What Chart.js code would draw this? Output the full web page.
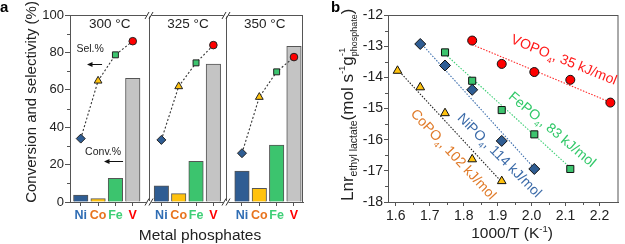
<!DOCTYPE html>
<html>
<head>
<meta charset="utf-8">
<title>Metal phosphates</title>
<script src="https://cdn.jsdelivr.net/npm/chart.js@4.4.1/dist/chart.umd.min.js"></script>
<style>
  body { margin: 0; background: #fff; }
  #wrap { position: relative; width: 625px; height: 244px; }
  canvas { position: absolute; top: 0; }
</style>
</head>
<body>
<div id="wrap">
  <canvas id="chartA" width="320" height="244" style="left:0"></canvas>
  <canvas id="chartB" width="305" height="244" style="left:320px"></canvas>
</div>
<script>
const FONT = "'Liberation Sans', Arial, Helvetica, sans-serif";

// ---- panel a data
const metals = ["Ni", "Co", "Fe", "V"];
const temps = ["300 °C", "325 °C", "350 °C"];
const conv300 = [3.7, 1.8, 12.7, 66.2];
const conv325 = [8.6, 4.5, 21.8, 73.8];
const conv350 = [16.6, 7.3, 30.4, 83.2];
const sel300 = [33.9, 64.8, 78.7, 86.0];
const sel325 = [33.2, 61.8, 74.4, 83.9];
const sel350 = [26.1, 56.1, 69.6, 77.5];
const yTicksA = [0, 20, 40, 60, 80, 100];

// ---- panel b data (1000/T values, ln r values)
const invT = [1.605, 1.672, 1.745, 1.825, 1.912, 2.008, 2.114, 2.232];
const lnCo = [-13.79, -14.32, -15.15, -16.63, -17.33]; // starts at invT[0]
const lnNi = [-12.93, -13.62, -14.40, -16.04, -16.94]; // starts at invT[1]
const lnFe = [-13.20, -14.11, -15.05, -15.83, -16.94]; // starts at invT[2]
const lnV = [-12.82, -13.57, -13.83, -14.08, -14.81];  // starts at invT[3]
const fitCo = [-13.75, -17.36];
const fitNi = [-12.88, -16.92];
const fitFe = [-13.25, -16.90];
const fitV = [-12.95, -14.80];
const xTicksB = [1.6, 1.7, 1.8, 1.9, 2.0, 2.1, 2.2];
const yTicksB = [-18, -17, -16, -15, -14, -13, -12];

// colours
const barColors = ["#2f5d93", "#ffc20e", "#3cc46e", "#c4c4c4"];
const markColors = ["#2f5d93", "#ffc20e", "#3cc46e", "#ff0000"];
const labelColors = ["#2f6db4", "#e8741e", "#3fcf77", "#ff0000"];
const markStyles = ["rectRot", "triangle", "rect", "circle"];
const markSizes = [4.5, 4.5, 4.2, 3.8];

// layout of the broken category axis (units of one metal slot)
const GROUP_STEP = 4.65;
const SEPS = [3.92, 8.37];
const xPos = (g, i) => g * GROUP_STEP + i;

Chart.defaults.font.family = FONT;
Chart.defaults.color = "#222";

function drawRich(ctx, parts, x, y, angle, align) {
  ctx.save();
  ctx.translate(x, y);
  ctx.rotate(angle);
  ctx.textAlign = "left";
  ctx.textBaseline = "alphabetic";
  let w = 0;
  parts.forEach(p => {
    ctx.font = (p.bold ? "bold " : "") + p.size + "px " + FONT;
    if (!p.stack) w += ctx.measureText(p.t).width;
  });
  let cx = align === "center" ? -w / 2 : 0;
  parts.forEach(p => {
    ctx.font = (p.bold ? "bold " : "") + p.size + "px " + FONT;
    ctx.fillStyle = p.color || "#222";
    ctx.fillText(p.t, cx, p.dy || 0);
    if (!p.stack) cx += ctx.measureText(p.t).width;
  });
  ctx.restore();
}

function arrowLeft(ctx, x1, x2, y) {
  ctx.beginPath();
  ctx.moveTo(x1, y);
  ctx.lineTo(x2 + 4, y);
  ctx.stroke();
  ctx.beginPath();
  ctx.moveTo(x2, y);
  ctx.lineTo(x2 + 5.5, y - 2.5);
  ctx.lineTo(x2 + 5.5, y + 2.5);
  ctx.closePath();
  ctx.fill();
}

// ---------------- panel a ----------------
const convAll = [conv300, conv325, conv350];
const selAll = [sel300, sel325, sel350];

const barData = convAll.flatMap((arr, g) => arr.map((v, i) => ({ x: xPos(g, i), y: v })));
const catTicks = convAll.flatMap((arr, g) => arr.map((v, i) => xPos(g, i)));

const selSets = selAll.map((arr, g) => ({
  type: "line",
  data: arr.map((v, i) => ({ x: xPos(g, i), y: v })),
  borderColor: "#333",
  borderWidth: 1.1,
  borderDash: [2, 2],
  pointStyle: markStyles,
  pointRadius: markSizes,
  pointBackgroundColor: markColors,
  pointBorderColor: "#222",
  pointBorderWidth: 1,
  order: 0
}));

const decorA = {
  id: "decorA",
  afterDatasetsDraw(chart) {
    const { ctx, chartArea: a, scales: { x, y } } = chart;
    ctx.save();
    ctx.strokeStyle = "#555";
    ctx.lineWidth = 1;
    ctx.strokeRect(a.left + 0.5, a.top + 0.5, a.right - a.left - 1, a.bottom - a.top);

    const sepPx = SEPS.map(s => Math.round(x.getPixelForValue(s)) + 0.5);
    sepPx.forEach(sx => {
      ctx.beginPath();
      ctx.moveTo(sx, a.top);
      ctx.lineTo(sx, a.bottom);
      ctx.stroke();
    });

    // break marks
    ctx.strokeStyle = "#333";
    sepPx.forEach(sx => {
      [a.top + 0.5, a.bottom].forEach(yy => {
        ctx.fillStyle = "#fff";
        ctx.fillRect(sx - 3, yy - 1, 5, 2);
        ctx.beginPath();
        [-3, 1].forEach(d => {
          ctx.moveTo(sx + d - 1.5, yy + 3.5);
          ctx.lineTo(sx + d + 2.5, yy - 3.5);
        });
        ctx.stroke();
      });
    });

    // minor ticks y
    ctx.strokeStyle = "#555";
    ctx.beginPath();
    [10, 30, 50, 70, 90].forEach(v => {
      const py = Math.round(y.getPixelForValue(v)) + 0.5;
      ctx.moveTo(a.left - 3, py);
      ctx.lineTo(a.left, py);
    });
    ctx.stroke();

    // temperature labels
    const edges = [a.left, ...sepPx, a.right];
    ctx.font = "13.5px " + FONT;
    ctx.fillStyle = "#222";
    ctx.textAlign = "center";
    ctx.textBaseline = "alphabetic";
    temps.forEach((t, g) => ctx.fillText(t, (edges[g] + edges[g + 1]) / 2, a.top + 13));

    // Sel.% / Conv.% notes
    ctx.font = "10.5px " + FONT;
    ctx.fillText("Sel.%", x.getPixelForValue(0.54), y.getPixelForValue(80.2));
    ctx.fillText("Conv.%", x.getPixelForValue(1.29), y.getPixelForValue(25.1));
    ctx.strokeStyle = "#111";
    ctx.fillStyle = "#111";
    ctx.lineWidth = 1;
    arrowLeft(ctx, x.getPixelForValue(1.23), x.getPixelForValue(0.36), Math.round(y.getPixelForValue(73.8)) + 0.5);
    arrowLeft(ctx, x.getPixelForValue(2.44), x.getPixelForValue(1.34), Math.round(y.getPixelForValue(21.9)) + 0.5);

    // titles
    ctx.fillStyle = "#222";
    ctx.font = "15.5px " + FONT;
    ctx.fillText("Metal phosphates", 200, 240);
    drawRich(ctx, [{ t: "Conversion and selectivity (%)", size: 15 }], 36, 102, -Math.PI / 2, "center");
    ctx.font = "bold 15px " + FONT;
    ctx.textAlign = "left";
    ctx.fillStyle = "#000";
    ctx.fillText("a", 0, 12);
    ctx.restore();
  }
};

new Chart(document.getElementById("chartA"), {
  type: "bar",
  data: {
    datasets: [
      ...selSets,
      {
        type: "bar",
        data: barData,
        backgroundColor: barData.map((d, i) => barColors[i % 4]),
        borderColor: "#555",
        borderWidth: 1,
        barThickness: 14.5,
        order: 1
      }
    ]
  },
  options: {
    responsive: false,
    animation: false,
    events: [],
    layout: { padding: { left: 0, right: 17, top: 15, bottom: 0 } },
    plugins: { legend: { display: false }, tooltip: { enabled: false } },
    scales: {
      x: {
        type: "linear",
        min: -0.62,
        max: 12.82,
        offset: false,
        afterBuildTicks: axis => { axis.ticks = catTicks.map(v => ({ value: v })); },
        afterFit: axis => { axis.height = 42; },
        grid: { offset: false, drawOnChartArea: false, drawTicks: true, tickLength: 4, color: "#555" },
        border: { display: true, color: "#555", width: 1 },
        ticks: {
          autoSkip: false,
          maxRotation: 0,
          minRotation: 0,
          padding: 2,
          font: { size: 12.5, weight: "bold" },
          color: c => labelColors[c.index % 4],
          callback: (v, i) => metals[i % 4]
        }
      },
      y: {
        min: 0,
        max: 100,
        afterBuildTicks: axis => { axis.ticks = yTicksA.map(v => ({ value: v })); },
        afterFit: axis => { axis.width = 70; },
        grid: { drawOnChartArea: false, drawTicks: true, tickLength: 5, color: "#555" },
        border: { display: true, color: "#555", width: 1 },
        ticks: { padding: 1, font: { size: 13 }, color: "#222" }
      }
    }
  },
  plugins: [decorA]
});

// ---------------- panel b ----------------
const seriesB = [
  { y: lnCo, start: 0, fit: fitCo, style: "triangle", fill: "#ffc20e", line: "#222", r: 5 },
  { y: lnNi, start: 1, fit: fitNi, style: "rectRot", fill: "#2f5d93", line: "#3d6fae", r: 5.5 },
  { y: lnFe, start: 2, fit: fitFe, style: "rect", fill: "#3cc46e", line: "#3fcf77", r: 5 },
  { y: lnV, start: 3, fit: fitV, style: "circle", fill: "#ff0000", line: "#ff2a2a", r: 4.5 }
];

const setsB = [];
seriesB.forEach(s => {
  const n = s.y.length;
  setsB.push({
    data: [{ x: invT[s.start], y: s.fit[0] }, { x: invT[s.start + n - 1], y: s.fit[1] }],
    showLine: true,
    borderColor: s.line,
    borderWidth: 1.1,
    borderDash: [1.5, 1.5],
    pointRadius: 0,
    order: 1
  });
  setsB.push({
    data: s.y.map((v, i) => ({ x: invT[s.start + i], y: v })),
    showLine: false,
    pointStyle: s.style,
    pointRadius: s.r,
    pointBackgroundColor: s.fill,
    pointBorderColor: "#111",
    pointBorderWidth: 1,
    order: 0
  });
});

const notesB = [
  { name: "VOPO", rest: ", 35 kJ/mol", color: "#ff1a1a", x: 2.096, y: -13.42, deg: 22 },
  { name: "FePO", rest: ", 83 kJ/mol", color: "#33c96a", x: 2.062, y: -15.66, deg: 40 },
  { name: "NiPO", rest: ", 114 kJ/mol", color: "#3a6aa8", x: 1.907, y: -16.49, deg: 45 },
  { name: "CoPO", rest: ", 102 kJ/mol", color: "#e07b2a", x: 1.771, y: -16.46, deg: 47 }
];

const decorB = {
  id: "decorB",
  afterDatasetsDraw(chart) {
    const { ctx, chartArea: a, scales: { x, y } } = chart;
    ctx.save();
    ctx.strokeStyle = "#555";
    ctx.lineWidth = 1;
    ctx.strokeRect(a.left + 0.5, a.top + 0.5, a.right - a.left - 1, a.bottom - a.top);

    // minor ticks
    ctx.beginPath();
    xTicksB.slice(0, -1).forEach(v => {
      const px = Math.round(x.getPixelForValue(v + 0.05)) + 0.5;
      ctx.moveTo(px, a.bottom);
      ctx.lineTo(px, a.bottom + 3);
    });
    yTicksB.slice(0, -1).forEach(v => {
      const py = Math.round(y.getPixelForValue(v + 0.5)) + 0.5;
      ctx.moveTo(a.left - 3, py);
      ctx.lineTo(a.left, py);
    });
    ctx.stroke();

    // rotated labels
    notesB.forEach(n => {
      drawRich(ctx, [
        { t: n.name, size: 14, color: n.color, dy: 5 },
        { t: "4", size: 8, color: n.color, dy: 9 },
        { t: n.rest, size: 14, color: n.color, dy: 5 }
      ], x.getPixelForValue(n.x), y.getPixelForValue(n.y), n.deg * Math.PI / 180, "center");
    });

    // axis titles
    drawRich(ctx, [
      { t: "1000/T (K", size: 15.5 },
      { t: "-1", size: 9.5, dy: -6 },
      { t: ")", size: 15.5 }
    ], 192, 238, 0, "center");

    drawRich(ctx, [
      { t: "Lnr", size: 17 },
      { t: "ethyl lactate", size: 10.5, dy: 4 },
      { t: "(mol s", size: 17 },
      { t: "-1", size: 9.5, dy: -8 },
      { t: "g", size: 17 },
      { t: "-1", size: 9.5, dy: -8, stack: true },
      { t: "phosphate", size: 9, dy: 4 },
      { t: ")", size: 17 }
    ], 33, 201, -Math.PI / 2, "left");

    ctx.font = "bold 15px " + FONT;
    ctx.fillStyle = "#000";
    ctx.textAlign = "left";
    ctx.textBaseline = "alphabetic";
    ctx.fillText("b", 11, 12);
    ctx.restore();
  }
};

new Chart(document.getElementById("chartB"), {
  type: "scatter",
  data: { datasets: setsB },
  options: {
    responsive: false,
    animation: false,
    events: [],
    layout: { padding: { left: 0, right: 3, top: 15, bottom: 0 } },
    plugins: { legend: { display: false }, tooltip: { enabled: false } },
    scales: {
      x: {
        type: "linear",
        min: 1.577,
        max: 2.256,
        afterBuildTicks: axis => { axis.ticks = xTicksB.map(v => ({ value: v })); },
        afterFit: axis => { axis.height = 42; },
        grid: { drawOnChartArea: false, drawTicks: true, tickLength: 4, color: "#555" },
        border: { display: true, color: "#555", width: 1 },
        ticks: {
          autoSkip: false, maxRotation: 0, minRotation: 0, padding: 2,
          font: { size: 14 }, color: "#222",
          callback: v => v.toFixed(1)
        }
      },
      y: {
        min: -18,
        max: -12,
        afterBuildTicks: axis => { axis.ticks = yTicksB.map(v => ({ value: v })); },
        afterFit: axis => { axis.width = 68; },
        grid: { drawOnChartArea: false, drawTicks: true, tickLength: 4, color: "#555" },
        border: { display: true, color: "#555", width: 1 },
        ticks: { padding: 1, font: { size: 14 }, color: "#222", callback: v => String(v) }
      }
    }
  },
  plugins: [decorB]
});
</script>
</body>
</html>
